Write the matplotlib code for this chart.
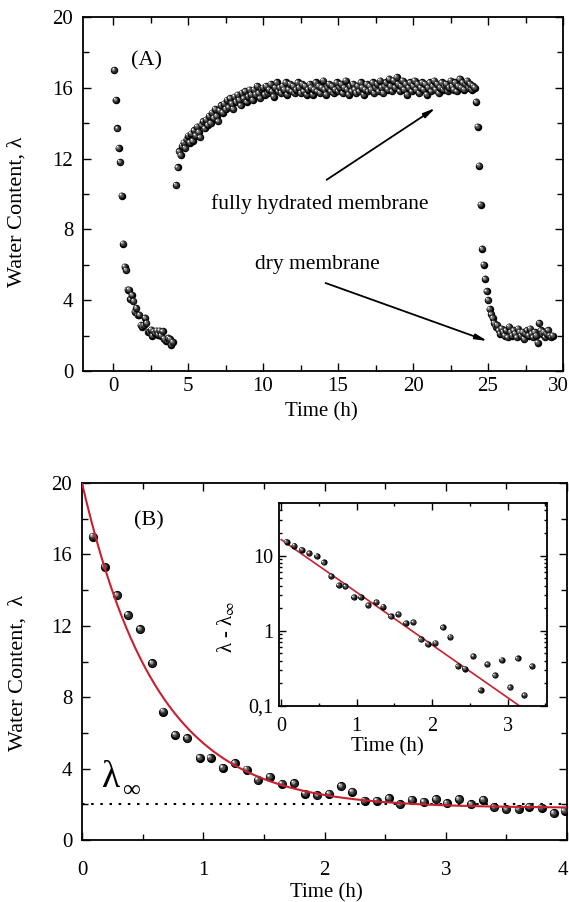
import numpy as np
import matplotlib
matplotlib.use('Agg')
import matplotlib.pyplot as plt
from matplotlib import transforms
from matplotlib.ticker import (MultipleLocator, FixedLocator, FixedFormatter, LogLocator,
                               NullFormatter, FuncFormatter)

plt.rcParams['font.family'] = ['Liberation Serif', 'DejaVu Serif']
plt.rcParams['mathtext.fontset'] = 'stix'

# ---------------- data ----------------
# first drying (also panel B)
t_dry = [0.09, 0.19, 0.29, 0.38, 0.48, 0.58, 0.67, 0.77, 0.87, 0.97,
         1.06, 1.16, 1.26, 1.36, 1.45, 1.55, 1.65, 1.75, 1.84, 1.94,
         2.04, 2.14, 2.23, 2.33, 2.43, 2.53, 2.62, 2.72, 2.82, 2.92,
         3.01, 3.11, 3.21, 3.31, 3.40, 3.50, 3.60, 3.69, 3.79, 3.89, 3.98]
lam_dry = [17.0, 15.3, 13.7, 12.6, 11.8, 9.9, 7.2, 5.9, 5.7, 4.6,
           4.6, 4.05, 4.3, 3.95, 3.36, 3.55, 3.14, 3.17, 2.6, 2.5,
           2.6, 3.0, 2.7, 2.2, 2.2, 2.33, 2.0, 2.24, 2.15, 2.28,
           2.05, 2.28, 2.0, 2.24, 1.83, 1.72, 1.72, 1.87, 1.81, 1.49, 1.64]

# hydration (sampled every 0.1 h from 4.2 h)
t_hyd0 = 4.2
lam_hyd = [10.5, 11.5, 12.4, 12.2, 12.7, 12.9, 12.6, 13.1, 13.3, 12.9,
           13.4, 13.0, 13.6, 13.3, 13.8, 13.5, 13.2, 13.9, 14.1, 13.7,
           14.2, 13.9, 14.4, 14.0, 14.6, 14.3, 14.8, 14.4, 14.1, 14.7,
           15.0, 14.6, 15.1, 14.8, 15.3, 14.9, 15.4, 15.1, 14.8, 15.5,
           15.2, 15.6, 15.3, 15.0, 15.7, 15.4, 15.8, 15.2, 15.5, 15.9,
           15.6, 15.3, 15.9, 15.6, 16.1, 15.7, 15.4, 15.9, 16.0, 15.6,
           16.1, 15.7, 15.9, 16.2, 15.8, 15.5, 16.0, 16.3, 15.8, 16.0,
           15.7, 16.1, 15.9, 16.3, 15.6, 15.9, 16.2, 15.8, 16.1, 15.7,
           15.9, 16.3, 16.0, 15.7, 16.2, 15.8, 16.1, 15.6, 15.9, 16.2,
           16.0, 15.6, 15.9, 16.3, 15.8, 16.1, 15.7, 16.0, 16.4, 15.9,
           15.6, 16.0, 16.2, 15.8, 16.1, 15.7, 15.9, 16.3, 15.8, 16.0,
           16.2, 15.7, 16.0, 16.4, 15.9, 15.6, 16.1, 15.8, 16.2, 15.9,
           15.7, 16.1, 15.8, 16.3, 16.0, 15.6, 15.9, 16.2, 15.8, 16.1,
           15.9, 16.3, 15.7, 16.0, 16.2, 15.8, 16.4, 16.0, 15.7, 16.1,
           16.3, 15.9, 16.5, 16.1, 15.8, 16.4, 16.0, 16.6, 16.2, 15.8,
           16.1, 16.4, 15.9, 16.2, 15.6, 16.0, 16.3, 15.8, 16.1, 16.4,
           15.9, 16.2, 15.7, 16.0, 16.3, 15.9, 16.2, 15.6, 16.0, 16.3,
           15.8, 16.1, 16.4, 15.9, 16.2, 15.7, 16.0, 16.3, 15.9, 16.1,
           16.2, 15.8, 16.0, 16.4, 16.1, 15.9, 16.3, 15.8, 16.1, 16.5,
           16.0, 16.3, 15.9, 16.2, 16.4, 16.0, 16.2, 15.9, 16.1, 16.0]

# second drying (sampled every 0.1 h from 24.2 h)
t_dry2_0 = 24.2
lam_dry2 = [15.2, 13.8, 11.6, 9.4, 6.9, 6.0, 5.2, 4.5, 4.0, 3.5,
            3.2, 3.0, 2.7, 2.5, 2.6, 2.3, 2.1, 2.4, 2.2, 2.0,
            2.3, 1.9, 2.5, 2.2, 2.0, 2.3, 2.1, 1.9, 2.4, 2.2,
            2.0, 2.2, 1.8, 2.1, 2.3, 2.0, 2.4, 2.1, 1.9, 2.2,
            2.0, 1.6, 2.7, 2.3, 2.1, 2.2, 1.9, 2.1, 2.3, 2.0, 1.9, 2.0]

# inset: lambda - lambda_inf (log)
t_log = [0.07, 0.17, 0.27, 0.37, 0.47, 0.56, 0.66, 0.76, 0.85, 0.96,
         1.05, 1.15, 1.26, 1.35, 1.45, 1.55, 1.65, 1.75, 1.85, 1.94,
         2.04, 2.14, 2.24, 2.34, 2.43, 2.54, 2.64, 2.73, 2.83, 2.92,
         3.03, 3.13, 3.22, 3.32]
dlam_log = [15.3, 13.6, 12.0, 10.8, 9.9, 8.1, 5.35, 4.05, 3.9, 2.8,
            2.8, 2.2, 2.4, 2.1, 1.56, 1.66, 1.27, 1.31, 0.77, 0.67,
            0.69, 1.11, 0.83, 0.34, 0.315, 0.46, 0.163, 0.36, 0.255, 0.41,
            0.177, 0.43, 0.14, 0.34]

# exponential fit
lam_inf = 2.0
fit_inf, fit_amp, fit_tau = 1.8, 18.2, 0.62
log_amp = 16.3

RED = '#c8202f'


def balls(ax, x, y, d, clip=True):
    ''' shaded spheres, drawn point by point '''
    fig = ax.figure
    layers = [(1.0, '#000000', 0.0), (0.78, '#262626', 0.06),
              (0.56, '#555555', 0.12), (0.36, '#9a9a9a', 0.18),
              (0.18, '#ffffff', 0.23)]
    trs = [transforms.offset_copy(ax.transData, fig=fig, x=-o * d, y=o * d, units='points')
           for k, c, o in layers]
    for xi, yi in zip(x, y):
        for (k, c, o), tr in zip(layers, trs):
            ax.scatter([xi], [yi], s=(k * d) ** 2, color=c, transform=tr,
                       linewidths=0, zorder=3, clip_on=clip)


def style(ax, pad):
    for s in ax.spines.values():
        s.set_linewidth(1.3)
    ax.tick_params(which='both', direction='in', top=True, right=True, width=1)
    ax.tick_params(which='major', length=6)
    ax.tick_params(which='minor', length=4)
    ax.tick_params(axis='y', pad=7)
    ax.tick_params(axis='x', pad=pad)


def last_label(ax, value, pad, size):
    ''' last x tick label, kept inside the figure edge '''
    ax.xaxis.set_major_formatter(FuncFormatter(
        lambda v, p: '' if abs(v - value) < 1e-9 else '%g' % v))
    tr = transforms.blended_transform_factory(ax.figure.transFigure, ax.transAxes)
    tr = tr + transforms.ScaledTranslation(0, -pad / 72, ax.figure.dpi_scale_trans)
    ax.text(0.999, 0, '%g' % value, transform=tr, ha='right', va='top', fontsize=size)


fig = plt.figure(figsize=(5.69, 9.02), dpi=100)

# ---------------- panel A ----------------
axA = fig.add_axes([0.1459, 0.5887, 0.8436, 0.3925])
t_hyd = np.round(t_hyd0 + 0.1 * np.arange(len(lam_hyd)), 2)
t_dry2 = np.round(t_dry2_0 + 0.1 * np.arange(len(lam_dry2)), 2)
balls(axA, t_dry, lam_dry, 5.4)
balls(axA, t_hyd, lam_hyd, 5.4)
balls(axA, t_dry2, lam_dry2, 5.4)
axA.set_xlim(-2, 30)
axA.set_ylim(0, 20)
axA.xaxis.set_major_locator(MultipleLocator(5))
axA.xaxis.set_minor_locator(MultipleLocator(2.5))
axA.yaxis.set_major_locator(MultipleLocator(4))
axA.yaxis.set_minor_locator(MultipleLocator(2))
style(axA, 4)
axA.tick_params(labelsize=15)
last_label(axA, 30, 4, 15)
axA.set_xlabel('Time (h)', fontsize=15)
axA.xaxis.set_label_coords(0.497, -0.088)
axA.set_ylabel('Water Content, λ', fontsize=16)
axA.yaxis.set_label_coords(-0.117, 0.45)
axA.text(2.25, 17.5, '(A)', fontsize=16, ha='center', va='center')
axA.text(13.8, 9.43, 'fully hydrated membrane', fontsize=15.5, ha='center', va='center')
axA.text(13.6, 6.0, 'dry membrane', fontsize=15.5, ha='center', va='center')
arw = dict(arrowstyle='-|>,head_length=0.7,head_width=0.15', color='black', lw=1.3,
           shrinkA=0, shrinkB=0)
axA.annotate('', xy=(21.5, 14.86), xytext=(14.24, 10.8), arrowprops=arw)
axA.annotate('', xy=(24.97, 1.69), xytext=(14.17, 4.97), arrowprops=arw)

# ---------------- panel B ----------------
axB = fig.add_axes([0.1441, 0.0687, 0.8524, 0.3958])
tt = np.linspace(0, 4, 300)
axB.plot(tt, fit_inf + fit_amp * np.exp(-tt / fit_tau), color=RED, lw=1.5, zorder=4)
axB.axhline(lam_inf, color='black', lw=1.5, ls=(0, (1.2, 3.2)), zorder=2)
balls(axB, t_dry, lam_dry, 6.6)
axB.set_xlim(0, 4)
axB.set_ylim(0, 20)
axB.xaxis.set_major_locator(MultipleLocator(1))
axB.xaxis.set_minor_locator(MultipleLocator(0.5))
axB.yaxis.set_major_locator(MultipleLocator(4))
axB.yaxis.set_minor_locator(MultipleLocator(2))
style(axB, 15)
axB.tick_params(labelsize=15)
last_label(axB, 4, 15, 15)
axB.set_xlabel('Time (h)', fontsize=15)
axB.xaxis.set_label_coords(0.503, -0.12)
axB.set_ylabel('Water Content,  λ', fontsize=16)
axB.yaxis.set_label_coords(-0.113, 0.468)
axB.text(0.554, 17.9, '(B)', fontsize=16, ha='center', va='center')
axB.text(0.24, 3.5, 'λ', fontsize=27, ha='center', va='center')
axB.text(0.40, 2.75, '∞', fontsize=18, ha='center', va='center')

# ---------------- inset ----------------
axI = fig.add_axes([0.4903, 0.2173, 0.471, 0.225], zorder=5)
ti = np.linspace(0, 3.5, 200)
axI.plot(ti, log_amp * np.exp(-ti / fit_tau), color=RED, lw=1.2, zorder=2)
balls(axI, t_log, dlam_log, 4.5)
axI.set_yscale('log')
axI.set_xlim(-0.03, 3.52)
axI.set_ylim(0.1, 50)
axI.xaxis.set_major_locator(MultipleLocator(1))
axI.xaxis.set_minor_locator(MultipleLocator(0.5))
axI.yaxis.set_major_locator(FixedLocator([0.1, 1, 10]))
axI.yaxis.set_major_formatter(FixedFormatter(['0,1', '1', '10']))
axI.yaxis.set_minor_locator(LogLocator(base=10, subs=np.arange(2, 10)))
axI.yaxis.set_minor_formatter(NullFormatter())
style(axI, 8)
axI.tick_params(axis='y', pad=4)
axI.tick_params(which='major', length=5)
axI.tick_params(which='minor', length=2.5)
axI.tick_params(labelsize=14.5)
axI.set_xlabel('Time (h)', fontsize=15)
axI.xaxis.set_label_coords(0.403, -0.153)
axI.set_ylabel('λ - λ$_\\infty$', fontsize=15)
axI.yaxis.set_label_coords(-0.157, 0.39)

fig.savefig('out.png', dpi=100)
